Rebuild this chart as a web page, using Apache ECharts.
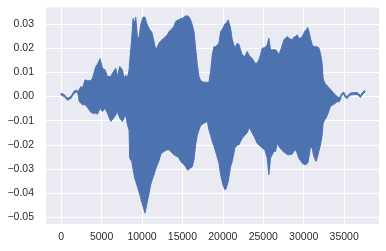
<!DOCTYPE html>
<html>
<head>
<meta charset="utf-8">
<script src="https://cdn.jsdelivr.net/npm/echarts@6/dist/echarts.min.js"></script>
<style>
  html, body { margin: 0; padding: 0; background: #fff; }
  #chart { width: 386px; height: 251px; }
</style>
</head>
<body>
<div id="chart"></div>
<script>
// envelope of the waveform (sample index, upper, lower)
const samples = [
  0, 374, 786, 1198, 1609, 1898, 2100, 2227, 2433, 2639,
  2968, 3256, 3668, 3874, 4285, 4491, 4820, 5109, 5437, 5725,
  6137, 6343, 6755, 6961, 7249, 7578, 7784, 7990, 8196, 8401,
  8483, 8730, 8895, 9101, 9224, 9430, 9636, 9842, 10130, 10377,
  10582, 10871, 11077, 11200, 11488, 11694, 11900, 12106, 12312, 12435,
  12723, 13135, 13340, 13546, 13752, 13958, 14164, 14370, 14576, 14782,
  14988, 15194, 15399, 15605, 15729, 16017, 16223, 16429, 16634, 16840,
  17046, 17252, 17663, 18075, 18280, 18486, 18692, 18898, 19104, 19515,
  19721, 20009, 20256, 20421, 20668, 20956, 21162, 21491, 21779, 21985,
  22191, 22397, 22726, 23014, 23220, 23343, 23631, 23961, 24249, 24454,
  24660, 24866, 25195, 25483, 25689, 25895, 26101, 26307, 26513, 26719,
  26924, 27254, 27542, 27748, 27954, 28159, 28571, 28777, 28983, 29189,
  29394, 29600, 29806, 30012, 30136, 30300, 30506, 30712, 30835, 31041,
  31247, 31535, 31659, 31864, 32070, 32276, 32399, 32605, 32770, 33017,
  33305, 33717, 33923, 34128, 34334, 34540, 34663, 34951, 35157, 35363,
  35568, 35774, 36186, 36597, 36803, 37009, 37215, 37421, 37544
];
const upper = [
  0.0014, 0.0008, -0.0007, 0.0000, 0.0022, 0.0027, 0.0019, 0.0028, 0.0041, 0.0035,
  0.0069, 0.0065, 0.0065, 0.0076, 0.0124, 0.0133, 0.0156, 0.0117, 0.0110, 0.0083,
  0.0083, 0.0096, 0.0117, 0.0083, 0.0124, 0.0110, 0.0076, 0.0089, 0.0076, 0.0110,
  0.0145, 0.0241, 0.0323, 0.0303, 0.0328, 0.0248, 0.0241, 0.0296, 0.0328, 0.0328,
  0.0303, 0.0282, 0.0270, 0.0268, 0.0227, 0.0193, 0.0206, 0.0220, 0.0230, 0.0234,
  0.0241, 0.0255, 0.0268, 0.0275, 0.0282, 0.0290, 0.0310, 0.0315, 0.0317, 0.0322,
  0.0323, 0.0328, 0.0333, 0.0333, 0.0333, 0.0317, 0.0296, 0.0268, 0.0200, 0.0131,
  0.0083, 0.0065, 0.0059, 0.0059, 0.0059, 0.0103, 0.0172, 0.0206, 0.0206, 0.0220,
  0.0268, 0.0282, 0.0300, 0.0303, 0.0317, 0.0282, 0.0234, 0.0200, 0.0220, 0.0216,
  0.0193, 0.0172, 0.0165, 0.0186, 0.0172, 0.0165, 0.0158, 0.0138, 0.0138, 0.0151,
  0.0172, 0.0200, 0.0202, 0.0213, 0.0241, 0.0193, 0.0193, 0.0193, 0.0193, 0.0186,
  0.0172, 0.0202, 0.0234, 0.0241, 0.0248, 0.0241, 0.0234, 0.0245, 0.0248, 0.0255,
  0.0241, 0.0241, 0.0248, 0.0261, 0.0270, 0.0275, 0.0285, 0.0261, 0.0240, 0.0215,
  0.0206, 0.0206, 0.0205, 0.0202, 0.0179, 0.0138, 0.0076, 0.0055, 0.0050, 0.0040,
  0.0030, 0.0014, 0.0007, 0.0000, -0.0004, 0.0000, 0.0011, 0.0018, 0.0004, 0.0000,
  0.0008, 0.0014, 0.0016, 0.0016, 0.0011, 0.0004, 0.0014, 0.0022, 0.0025
];
const lower = [
  0.0006, 0.0000, -0.0015, -0.0008, 0.0014, 0.0019, 0.0011, -0.0020, -0.0028, -0.0034,
  -0.0034, -0.0045, -0.0065, -0.0069, -0.0069, -0.0073, -0.0048, -0.0062, -0.0048, -0.0069,
  -0.0103, -0.0096, -0.0076, -0.0062, -0.0089, -0.0103, -0.0089, -0.0076, -0.0117, -0.0138,
  -0.0255, -0.0268, -0.0300, -0.0337, -0.0350, -0.0372, -0.0395, -0.0420, -0.0455, -0.0482,
  -0.0447, -0.0400, -0.0365, -0.0350, -0.0323, -0.0300, -0.0282, -0.0265, -0.0241, -0.0235,
  -0.0227, -0.0220, -0.0220, -0.0227, -0.0234, -0.0241, -0.0245, -0.0248, -0.0255, -0.0268,
  -0.0275, -0.0282, -0.0290, -0.0303, -0.0303, -0.0296, -0.0290, -0.0261, -0.0200, -0.0160,
  -0.0138, -0.0120, -0.0110, -0.0103, -0.0138, -0.0160, -0.0186, -0.0205, -0.0227, -0.0275,
  -0.0323, -0.0365, -0.0385, -0.0380, -0.0350, -0.0290, -0.0268, -0.0213, -0.0200, -0.0200,
  -0.0186, -0.0172, -0.0160, -0.0150, -0.0131, -0.0131, -0.0151, -0.0172, -0.0193, -0.0200,
  -0.0206, -0.0213, -0.0220, -0.0255, -0.0323, -0.0255, -0.0241, -0.0227, -0.0227, -0.0193,
  -0.0206, -0.0220, -0.0230, -0.0234, -0.0240, -0.0241, -0.0238, -0.0227, -0.0220, -0.0234,
  -0.0255, -0.0265, -0.0275, -0.0280, -0.0282, -0.0280, -0.0275, -0.0240, -0.0206, -0.0213,
  -0.0248, -0.0268, -0.0255, -0.0227, -0.0200, -0.0160, -0.0110, -0.0096, -0.0089, -0.0069,
  -0.0041, -0.0032, -0.0028, -0.0021, -0.0023, -0.0014, 0.0003, 0.0010, -0.0004, -0.0008,
  0.0000, 0.0006, 0.0008, 0.0008, 0.0003, -0.0004, 0.0006, 0.0014, 0.0017
];
const xTicks = [0, 5000, 10000, 15000, 20000, 25000, 30000, 35000];
const yTicks = [-0.05, -0.04, -0.03, -0.02, -0.01, 0.00, 0.01, 0.02, 0.03];

const BLUE = '#4c72b0';
const labelStyle = { color: '#2b2b2b', fontSize: 10.5, fontFamily: 'Liberation Sans, Arial, sans-serif' };

const chart = echarts.init(document.getElementById('chart'), null, { renderer: 'canvas' });

// whole band drawn as one polygon: upper edge left->right, lower edge back
function renderBand(params, api) {
  if (params.dataIndex !== 0) return null;
  const top = samples.map((s, i) => api.coord([s, upper[i]]));
  const bottom = samples.map((s, i) => api.coord([s, lower[i]])).reverse();
  return {
    type: 'polygon',
    shape: { points: top.concat(bottom) },
    style: { fill: BLUE, stroke: BLUE, lineWidth: 1, lineJoin: 'round' }
  };
}

chart.setOption({
  animation: false,
  backgroundColor: '#fff',
  grid: {
    left: 46, right: 7, top: 7.5, bottom: 27,
    show: true, backgroundColor: '#eaeaf2', borderWidth: 0
  },
  xAxis: {
    type: 'value',
    min: -1872,
    max: 39312,
    axisLine: { show: false },
    axisTick: { show: false, customValues: xTicks },
    axisLabel: { ...labelStyle, margin: 8, customValues: xTicks, formatter: v => String(v) },
    splitLine: { lineStyle: { color: '#fff', width: 1 } }
  },
  yAxis: {
    type: 'value',
    min: -0.0527,
    max: 0.0368,
    axisLine: { show: false },
    axisTick: { show: false, customValues: yTicks },
    axisLabel: {
      ...labelStyle,
      margin: 12,
      customValues: yTicks,
      formatter: v => v.toFixed(2).replace('-', '\u2212')
    },
    splitLine: { lineStyle: { color: '#fff', width: 1 } }
  },
  series: [
    {
      type: 'custom',
      renderItem: renderBand,
      clip: true,
      encode: { x: 0, y: [1, 2] },
      data: samples.map((s, i) => [s, upper[i], lower[i]])
    }
  ]
});
</script>
</body>
</html>
